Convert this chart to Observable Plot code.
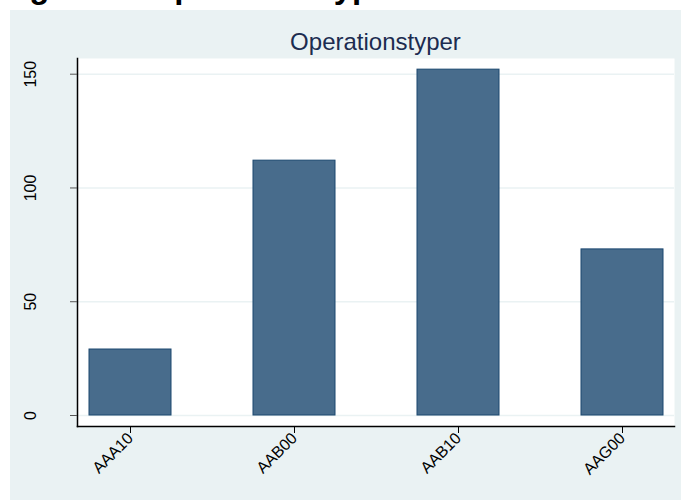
<!DOCTYPE html>
<html>
<head>
<meta charset="utf-8">
<script src="https://cdn.jsdelivr.net/npm/d3@7"></script>
<script src="https://cdn.jsdelivr.net/npm/@observablehq/plot@0.6"></script>
<style>
  html, body { margin: 0; padding: 0; background: #ffffff; overflow: hidden; }
  #page { position: relative; width: 681px; height: 500px; overflow: hidden; }
  #heading { position: absolute; left: 0px; top: -30.5px; font: bold 33px "Liberation Sans", Arial, sans-serif; line-height: 33px; color: #000; white-space: nowrap; }
  #panel { position: absolute; left: 10px; top: 10px; width: 671px; height: 490px; background: #eaf2f3; }
  #title { position: absolute; left: 67px; width: 597px; top: 19.5px; font: 24px "Liberation Sans", Arial, sans-serif; line-height: 24px; text-align: center; color: #1c2c50; }
  #chart { position: absolute; left: 0; top: 40px; }
</style>
</head>
<body>
<div id="page">
  <div id="heading">Figur 10: Operationstyper</div>
  <div id="panel">
    <div id="title">Operationstyper</div>
    <div id="chart"></div>
  </div>
</div>
<script>
const categories = ["AAA10", "AAB00", "AAB10", "AAG00"];
const counts = [29, 112, 152, 73];
const yTicks = [0, 50, 100, 150];

const data = categories.map((c, i) => ({cat: c, n: counts[i]}));

const chart = Plot.plot({
  width: 671,
  height: 450,
  marginLeft: 67,
  marginRight: 7,
  marginTop: 8,
  marginBottom: 74,
  style: "background: transparent; font-family: 'Liberation Sans', Arial, sans-serif; font-size: 16px; color: black;",
  x: {domain: categories, paddingInner: 0.5, paddingOuter: 0, insetLeft: 10.7, insetRight: 10, label: null},
  y: {domain: [0, 150], insetTop: 15.7, insetBottom: 11, label: null},
  marks: [
    Plot.frame({fill: "white", stroke: null}),
    Plot.gridY(yTicks, {stroke: "#eaf2f3", strokeOpacity: 1, strokeWidth: 1.5}),
    Plot.barY(data, {x: "cat", y: "n", fill: "#486c8c", stroke: "#1a476f", strokeWidth: 1}),
    Plot.frame({anchor: "left", stroke: "black", strokeWidth: 1.5}),
    Plot.frame({anchor: "bottom", stroke: "black", strokeWidth: 1.5}),
    Plot.axisY(yTicks, {text: null, tickSize: 7, stroke: "#555", label: null}),
    Plot.axisY(yTicks, {tickSize: 0, tickPadding: 42, tickRotate: -90, fill: "black", fontSize: 16, label: null}),
    Plot.axisX({tickSize: 7, tickPadding: 2, tickRotate: -45, stroke: "black", fill: "black", fontSize: 16, label: null})
  ]
});
document.getElementById("chart").appendChild(chart);
</script>
</body>
</html>
